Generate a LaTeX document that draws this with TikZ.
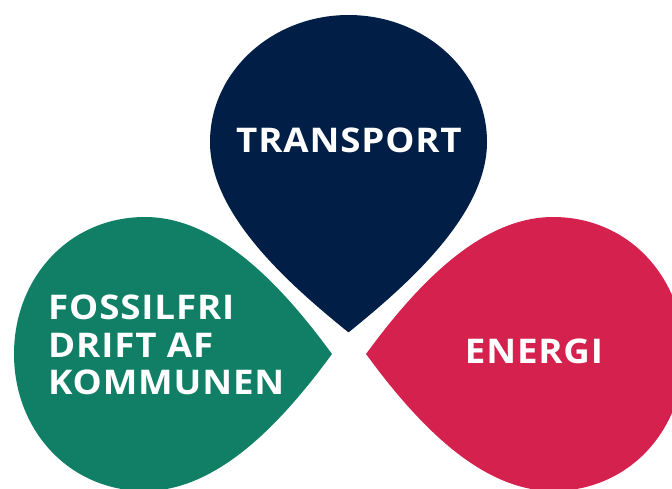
\documentclass[tikz,border=0pt]{standalone}
\usepackage{fontspec}
\newfontfamily\dropfont{Open Sans}[FakeStretch=1.08, LetterSpace=2.5]
\definecolor{navy}{HTML}{001E46}
\definecolor{leafgreen}{HTML}{117F65}
\definecolor{rosered}{HTML}{D4214E}

\begin{document}
\begin{tikzpicture}[
    x=1pt, y=-1pt,
    droptext/.style={text=white, inner sep=0pt, font=\dropfont\bfseries\fontsize{34}{37.5}\selectfont}
  ]
    \clip (0,0) rectangle (672,488);

    % Drops
    \fill[navy] (348,332) .. controls (290,285) and (210,215) .. (210,142)
      .. controls (210,72) and (272,15) .. (348.5,15)
      .. controls (425,15) and (487,72) .. (487,142)
      .. controls (487,215) and (407,285) .. (349,332) -- cycle;
    \fill[leafgreen] (332,354) .. controls (285,290) and (220,217) .. (145,217)
      .. controls (69,217) and (14,278) .. (14,354)
      .. controls (14,430) and (69,491) .. (145,491)
      .. controls (220,491) and (285,418) .. (332,354) -- cycle;
    \fill[rosered] (366,354) .. controls (413,290) and (478,217) .. (553,217)
      .. controls (629,217) and (684,278) .. (684,354)
      .. controls (684,430) and (629,491) .. (553,491)
      .. controls (478,491) and (413,418) .. (366,354) -- cycle;

    % Labels
    \node[droptext, anchor=base] (transport) at (349,152) {TRANSPORT};
    \node[droptext, anchor=north west, align=left] (fossilfri) at (48,295) {FOSSILFRI\\DRIFT AF\\KOMMUNEN};
    \node[droptext, anchor=base] (energi) at (534,363) {ENERGI};
  \end{tikzpicture}
\end{document}
